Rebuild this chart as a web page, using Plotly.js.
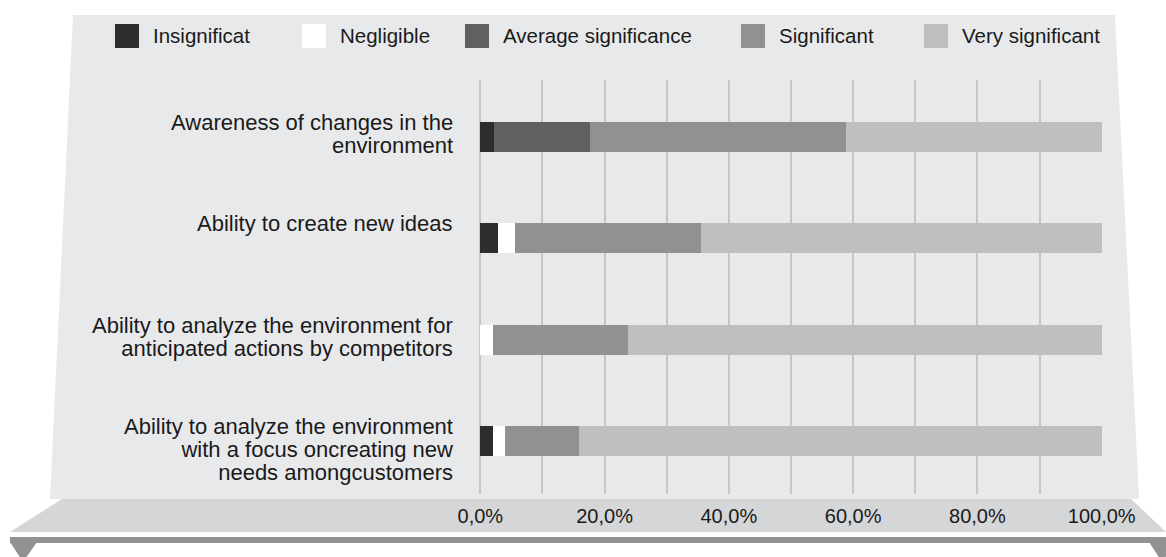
<!DOCTYPE html>
<html>
<head>
<meta charset="utf-8">
<script src="https://cdn.plot.ly/plotly-3.0.1.min.js"></script>
<style>html,body{margin:0;padding:0;background:#fff;}#chart{width:1166px;height:557px;}</style>
</head>
<body>
<div id="chart"></div>
<script>
// ---- data ----
const categories = [
  "Awareness of changes in the<br>environment",
  "Ability to create new ideas",
  "Ability to analyze the environment for<br>anticipated actions by competitors",
  "Ability to analyze the environment<br>with a focus oncreating new<br>needs amongcustomers"
];
const seriesNames = ["Insignificat", "Negligible", "Average significance", "Significant", "Very significant"];
const insignificant = [2.2, 2.9, 0, 2.1];
const negligible = [0, 2.7, 2.1, 1.9];
const average = [15.4, 0, 0, 0];
const significant = [41.2, 29.9, 21.7, 11.9];
const verySignificant = [41.2, 64.5, 76.2, 84.1];
const xTickValues = [0, 20, 40, 60, 80, 100];
const xTickLabels = xTickValues.map(v => v.toFixed(1).replace(".", ",") + "%");

// ---- styles ----
const colors = ["#2d2d2d", "#ffffff", "#5f6062", "#919192", "#bebfc0"];
const FONT = "Liberation Sans, Arial, sans-serif";
const TXT = "#1a1a1a";
const GRID = "#c6c6c6";

// plot-area pixel frame
const L = 480, R = 1102, T = 80, B = 494;
const px = x => (x - L) / (R - L);
const py = y => (B - y) / (B - T);
const path = pts => "M" + pts.map(p => px(p[0]).toFixed(5) + "," + py(p[1]).toFixed(5)).join("L") + "Z";

const values = [insignificant, negligible, average, significant, verySignificant];
const traces = values.map((v, i) => ({
  type: "bar",
  orientation: "h",
  name: seriesNames[i],
  x: v,
  y: categories,
  width: 0.296,
  marker: {color: colors[i], line: {width: 0}},
  showlegend: false,
  hoverinfo: "x+name"
}));

const shapes = [
  // background panel
  {type: "path", xref: "paper", yref: "paper", layer: "below",
   path: path([[73, 15], [1115, 15], [1139, 499], [50, 499]]),
   fillcolor: "#e8e9eb", line: {width: 0}},
  // floor band
  {type: "path", xref: "paper", yref: "paper", layer: "below",
   path: path([[62, 499], [1131, 499], [1166, 532], [10, 532]]),
   fillcolor: "#d5d6d8", line: {width: 0}},
  // dark base bar
  {type: "path", xref: "paper", yref: "paper", layer: "below",
   path: path([[10, 537], [1166, 537], [1166, 543], [10, 543]]),
   fillcolor: "#929292", line: {width: 0}},
  {type: "path", xref: "paper", yref: "paper", layer: "below",
   path: path([[10, 542], [37, 542], [23, 562]]),
   fillcolor: "#929292", line: {width: 0}},
  {type: "path", xref: "paper", yref: "paper", layer: "below",
   path: path([[1149, 542], [1176, 542], [1162, 562]]),
   fillcolor: "#929292", line: {width: 0}}
];

const annotations = [];

// custom legend (large swatches)
const legendX = [115, 302, 465, 741, 924];
seriesNames.forEach((n, i) => {
  shapes.push({type: "rect", xref: "paper", yref: "paper",
    x0: px(legendX[i]), x1: px(legendX[i] + 24), y0: py(48), y1: py(24),
    fillcolor: colors[i], line: {width: 0}});
  annotations.push({xref: "paper", yref: "paper", x: px(legendX[i] + 36), y: py(36),
    xanchor: "left", yanchor: "middle", showarrow: false, text: n,
    font: {family: FONT, size: 20.5, color: TXT}});
});

// category labels (right aligned, first line level with the bar's upper half)
const LABEL_SIZE = 22, LINE_GAP = 23, TOP_SHIFT = 29;
categories.forEach(c => {
  annotations.push({xref: "paper", yref: "y", x: px(455), y: c,
    xanchor: "right", yanchor: "top", align: "right", showarrow: false, text: c,
    yshift: TOP_SHIFT,
    font: {family: FONT, size: LABEL_SIZE, color: TXT}});
});

const layout = {
  width: 1166, height: 557,
  margin: {l: L, r: 1166 - R, t: T, b: 557 - B, pad: 0},
  paper_bgcolor: "#ffffff",
  plot_bgcolor: "rgba(0,0,0,0)",
  barmode: "stack",
  showlegend: false,
  font: {family: FONT, size: 20, color: TXT},
  xaxis: {
    range: [-0.05, 100.05],
    tickmode: "array", tickvals: xTickValues, ticktext: xTickLabels,
    showgrid: true, gridcolor: GRID, gridwidth: 2,
    minor: {dtick: 10, tick0: 0, showgrid: true, gridcolor: GRID, gridwidth: 2},
    zeroline: true, zerolinecolor: GRID, zerolinewidth: 2,
    showline: false, ticks: "",
    ticklabelstandoff: 8,
    tickfont: {family: FONT, size: 20, color: TXT},
    fixedrange: true
  },
  yaxis: {
    type: "category",
    range: [3.523, -0.563],
    showgrid: false, zeroline: false, showline: false, ticks: "",
    showticklabels: false,
    fixedrange: true
  },
  shapes: shapes,
  annotations: annotations
};

Plotly.newPlot("chart", traces, layout, {displayModeBar: false, staticPlot: true}).then(gd => {
  // tighten the line spacing of the multi-line category labels
  gd.querySelectorAll("text.annotation-text").forEach(t => {
    t.querySelectorAll("tspan.line").forEach((ln, k) => {
      ln.setAttribute("dy", (k * LINE_GAP) + "px");
    });
  });
});
</script>
</body>
</html>
